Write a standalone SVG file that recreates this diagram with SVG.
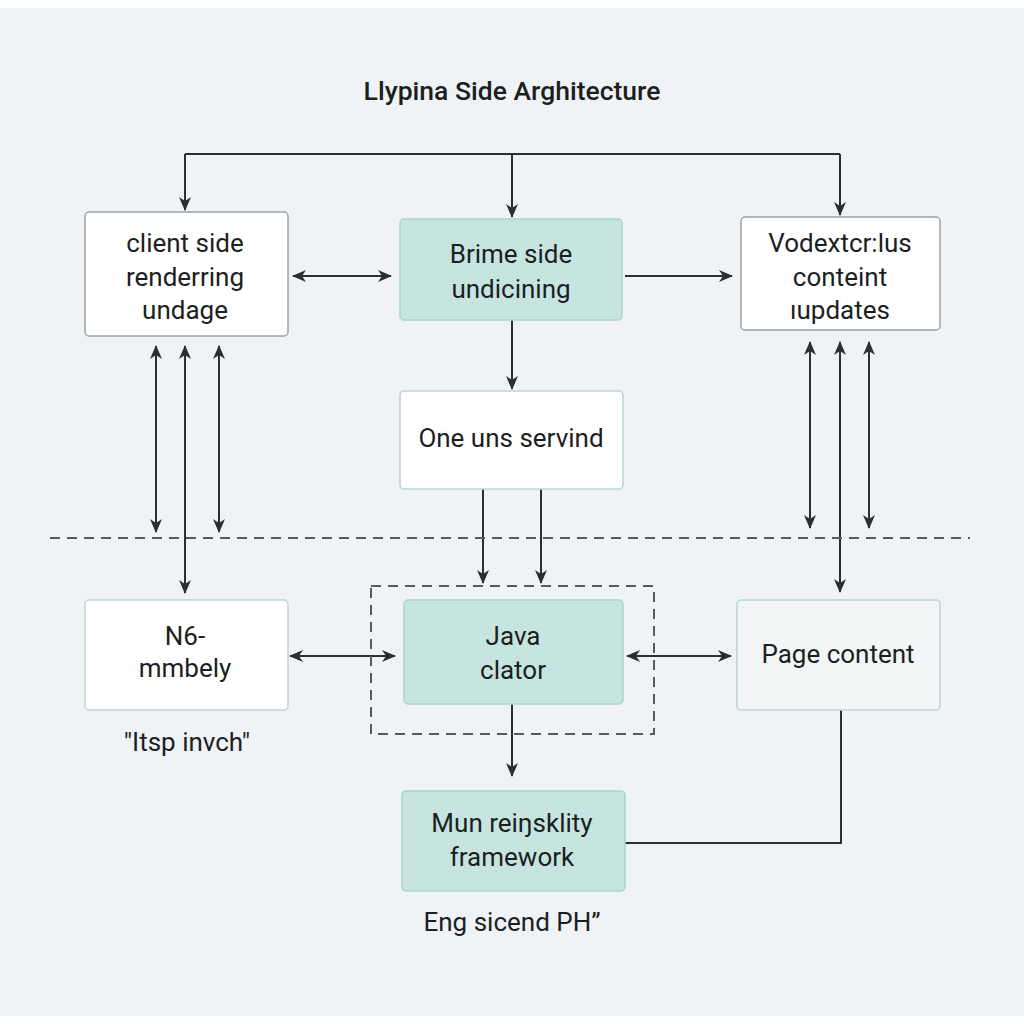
<svg xmlns="http://www.w3.org/2000/svg" width="1024" height="1024" viewBox="0 0 1024 1024">
<defs>
<style>
.bg{fill:#eff3f6}
.box{stroke:#9aa3a8;stroke-width:1.5}
.w{fill:#ffffff}
.t{fill:#c6e5e0;stroke:#a9d3cc}
.pc{fill:#f2f6f7;stroke:#b9d6d1}
.line{fill:none;stroke:#2b2f33;stroke-width:2}
.dash{fill:none;stroke:#555b60;stroke-width:2;stroke-dasharray:10 7}
text{font-family:Roboto,"Liberation Sans",sans-serif;font-size:26px;fill:#1c1f22;text-anchor:middle}
.title{font-size:26.5px;font-weight:500}
</style>
<marker id="ah" viewBox="0 0 14 12" refX="13" refY="6" markerWidth="14" markerHeight="12" markerUnits="userSpaceOnUse" orient="auto-start-reverse">
<path d="M0,0 L14,6 L0,12 L4,6 z" fill="#2b2f33"/>
</marker>
</defs>
<rect x="0" y="0" width="1024" height="1024" fill="#ffffff"/>
<rect class="bg" x="0" y="8" width="1024" height="1008"/>
<text class="title" x="512" y="100">Llypina Side Arghitecture</text>

<g id="connectors">
<path class="line" d="M185,154 H840"/>
<path class="line" d="M185,154 V210" marker-end="url(#ah)"/>
<path class="line" d="M512,154 V217" marker-end="url(#ah)"/>
<path class="line" d="M840,154 V215" marker-end="url(#ah)"/>
<path class="line" d="M293,276 H391" marker-start="url(#ah)" marker-end="url(#ah)"/>
<path class="line" d="M625,276 H732" marker-end="url(#ah)"/>
<path class="line" d="M512,320 V389" marker-end="url(#ah)"/>
<path class="line" d="M483,489 V583" marker-end="url(#ah)"/>
<path class="line" d="M541,489 V583" marker-end="url(#ah)"/>
<path class="line" d="M156,346 V532" marker-start="url(#ah)" marker-end="url(#ah)"/>
<path class="line" d="M185,346 V593" marker-start="url(#ah)" marker-end="url(#ah)"/>
<path class="line" d="M219,346 V532" marker-start="url(#ah)" marker-end="url(#ah)"/>
<path class="line" d="M810,342 V528" marker-start="url(#ah)" marker-end="url(#ah)"/>
<path class="line" d="M840,342 V592" marker-start="url(#ah)" marker-end="url(#ah)"/>
<path class="line" d="M869,342 V528" marker-start="url(#ah)" marker-end="url(#ah)"/>
<path class="line" d="M290,656 H395" marker-start="url(#ah)" marker-end="url(#ah)"/>
<path class="line" d="M627,656 H731" marker-start="url(#ah)" marker-end="url(#ah)"/>
<path class="line" d="M512,704 V776" marker-end="url(#ah)"/>
<path class="line" d="M841,710 V843 H625"/>
</g>

<path class="dash" d="M50,538 H970"/>
<rect class="dash" x="371" y="586" width="283" height="148"/>

<g id="client">
<rect class="box w" x="85" y="212" width="203" height="124" rx="4"/>
<text x="185" y="252">client side</text>
<text x="185" y="286">renderring</text>
<text x="185" y="319">undage</text>
</g>
<g id="brime">
<rect class="box t" x="400" y="219" width="222" height="101" rx="4"/>
<text x="511" y="263">Brime side</text>
<text x="511" y="298">undicining</text>
</g>
<g id="vodext">
<rect class="box w" x="741" y="217" width="199" height="113" rx="4"/>
<text x="840" y="252">Vodextcr:lus</text>
<text x="840" y="286">conteint</text>
<text x="840" y="319">ıupdates</text>
</g>
<g id="servind">
<rect class="box w" x="400" y="391" width="223" height="98" rx="4" style="stroke:#b9d6d1"/>
<text x="511" y="447">One uns servind</text>
</g>
<g id="mmbely">
<rect class="box w" x="85" y="600" width="203" height="110" rx="4" style="stroke:#b9d6d1"/>
<text x="185" y="645">N6-</text>
<text x="185" y="677">mmbely</text>
<text x="187" y="751">"Itsp invch"</text>
</g>
<g id="java">
<rect class="box t" x="404" y="600" width="219" height="104" rx="4"/>
<text x="513" y="645">Java</text>
<text x="513" y="679">clator</text>
</g>
<g id="page">
<rect class="box pc" x="737" y="600" width="203" height="110" rx="4"/>
<text x="838" y="663">Page content</text>
</g>
<g id="framework">
<rect class="box t" x="402" y="791" width="223" height="100" rx="4"/>
<text x="512" y="832">Mun reiŋsklity</text>
<text x="512" y="866">framework</text>
<text x="512" y="931">Eng sicend PH”</text>
</g>
</svg>
